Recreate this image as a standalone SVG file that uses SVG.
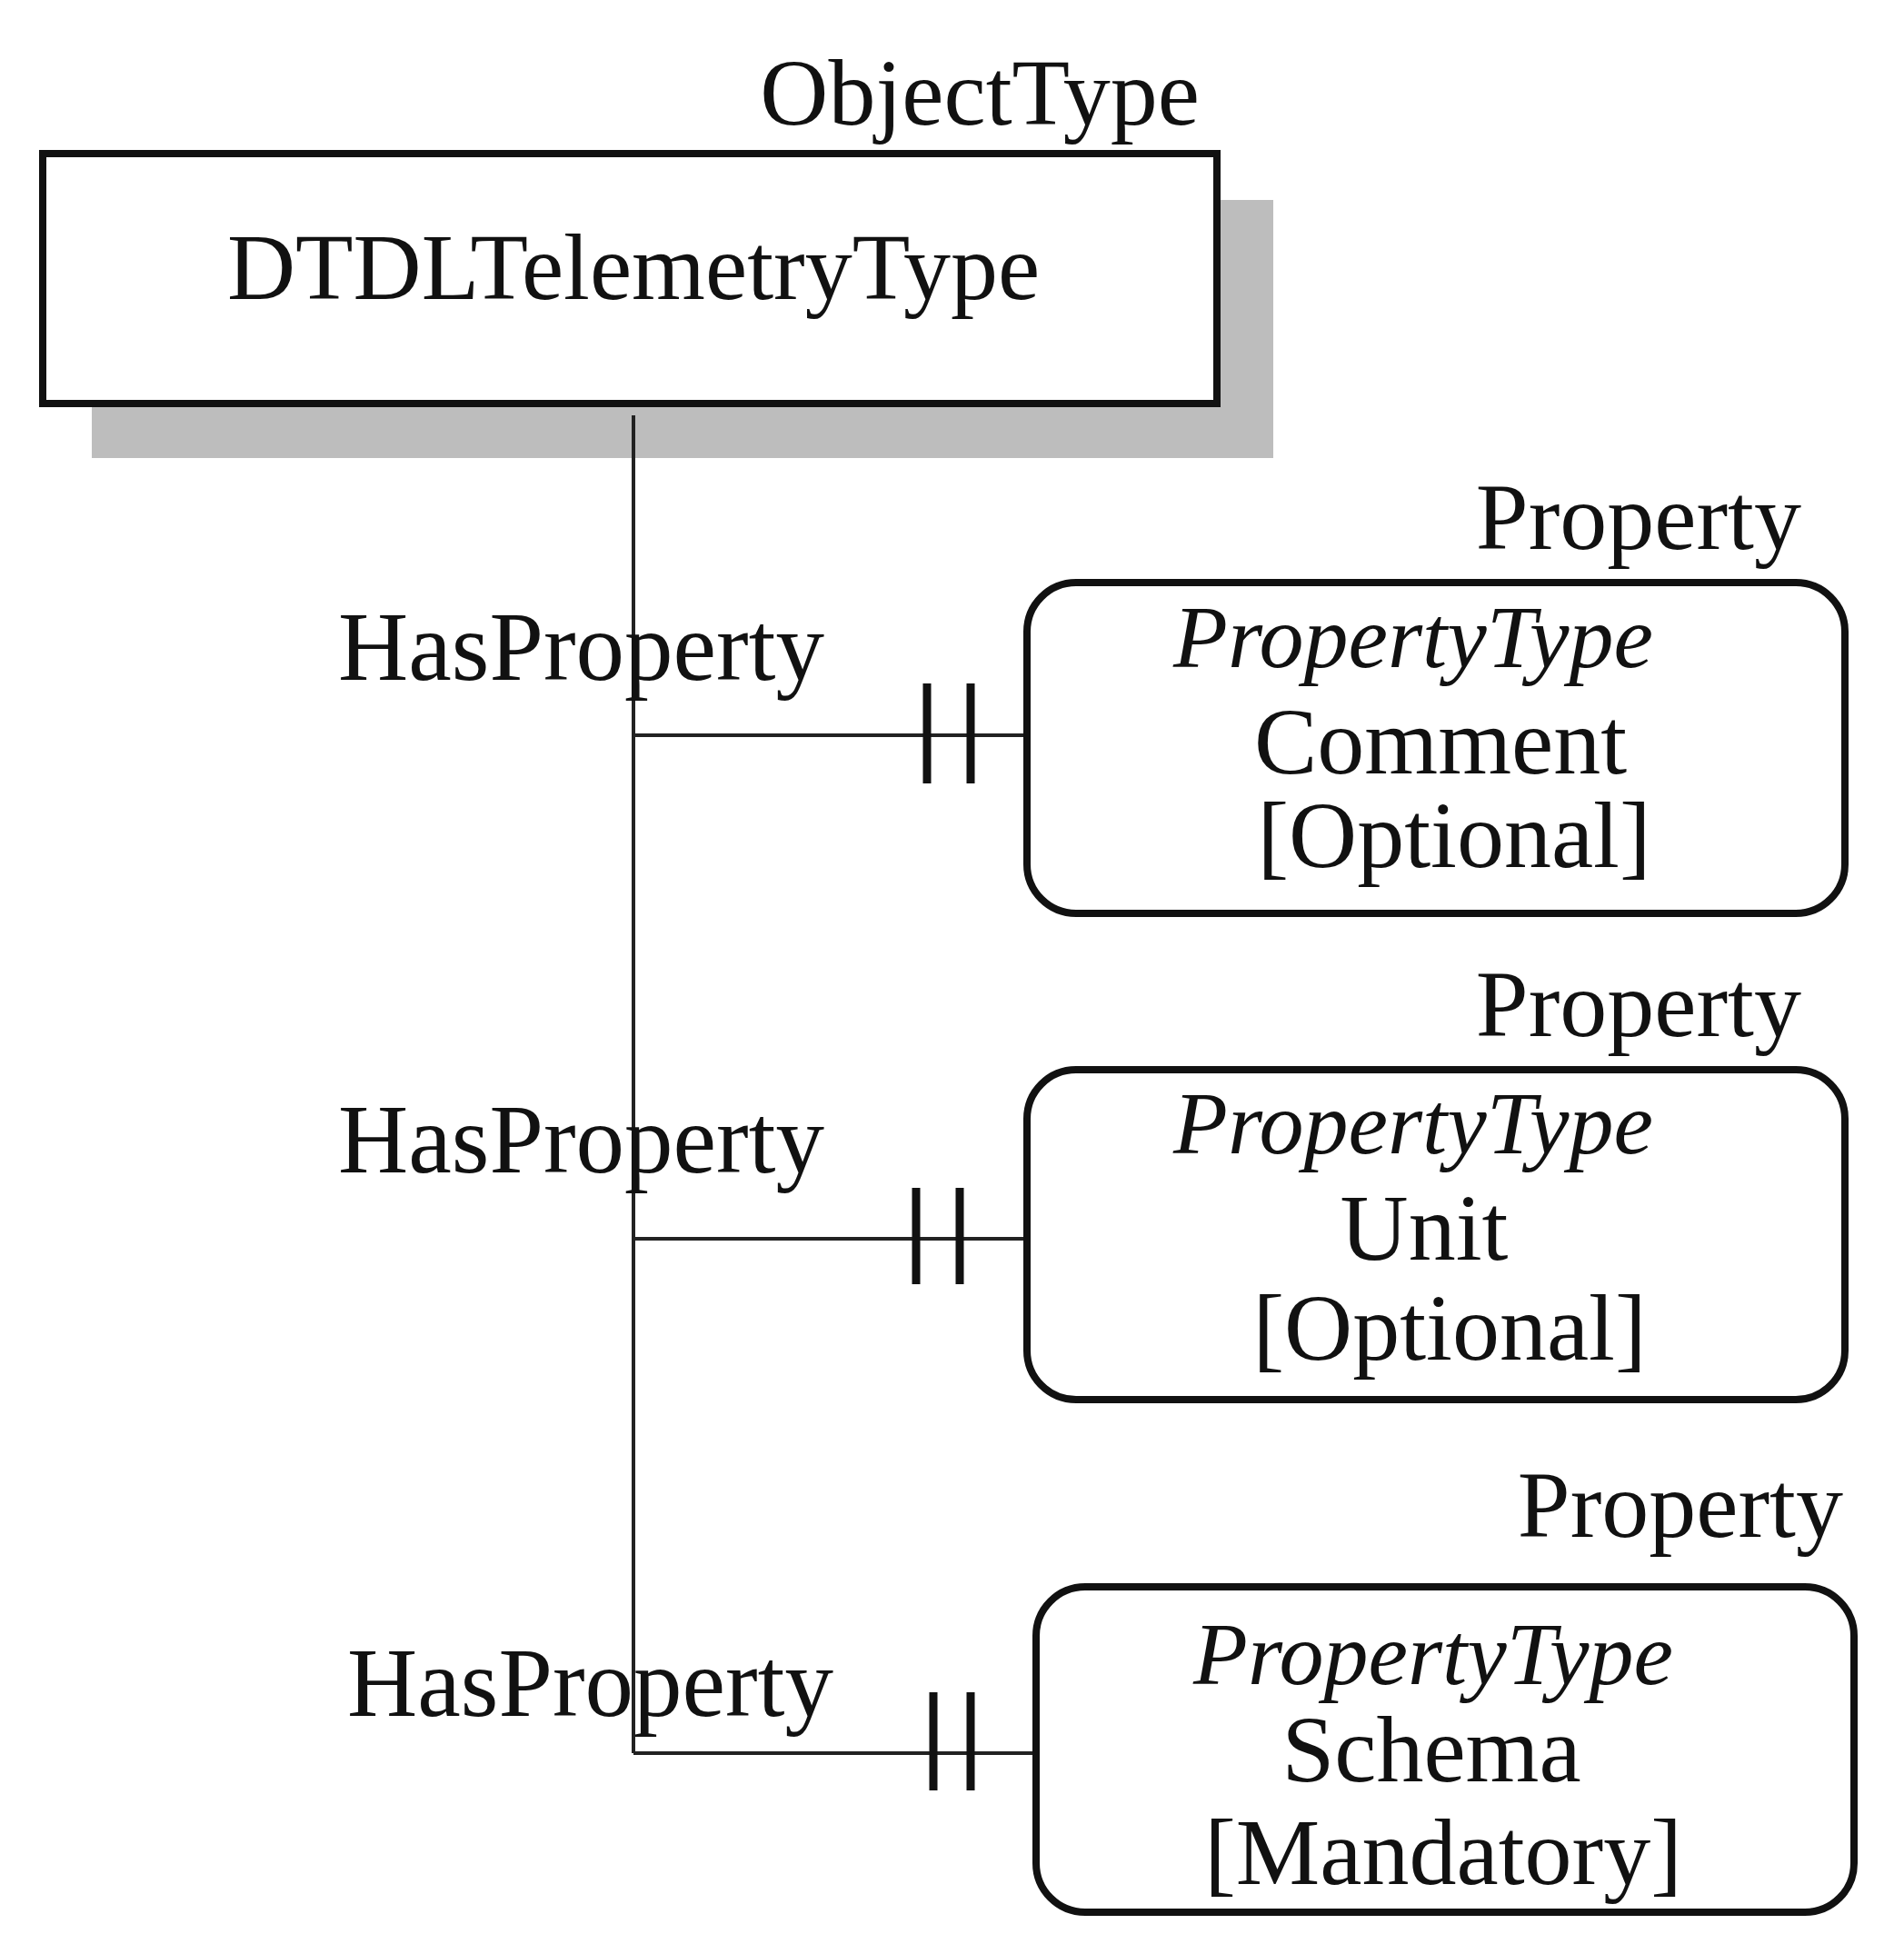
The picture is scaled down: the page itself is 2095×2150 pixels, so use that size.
<svg xmlns="http://www.w3.org/2000/svg" width="2095" height="2150" viewBox="0 0 2095 2150">
<style>
text{font-family:"Liberation Serif","DejaVu Serif",serif;font-size:104px;fill:#111}
.m{text-anchor:middle}.e{text-anchor:end}.i{font-style:italic;font-size:98px}
.h{font-size:107px}
.box{fill:#fff;stroke:#111;stroke-width:8}
.ln{stroke:#222;stroke-width:4;fill:none}
.bar{stroke:#111;stroke-width:9}
</style>
<rect width="2095" height="2150" fill="#fff"/>
<g id="n0">
<rect x="101" y="220" width="1300" height="284" fill="#bdbdbd"/>
<rect class="box" x="47" y="169" width="1292" height="275"/>
<text class="e" x="1320" y="137">ObjectType</text>
<text class="m" x="697" y="329">DTDLTelemetryType</text>
</g>
<g id="connectors">
<path class="ln" d="M697 457V1929M697 809H1130M697 1363H1130M697 1929H1140"/>
<path class="bar" d="M1020 752V862M1068 752V862M1008 1307V1413M1056 1307V1413M1027 1862V1970M1068 1862V1970"/>
<text class="h" x="372" y="748">HasProperty</text>
<text class="h" x="372" y="1290">HasProperty</text>
<text class="h" x="382" y="1888">HasProperty</text>
</g>
<g id="n1">
<rect class="box" x="1130" y="641" width="900" height="364" rx="54"/>
<text class="e" x="1982" y="604">Property</text>
<text class="m i" x="1555" y="734">PropertyType</text>
<text class="m" x="1585" y="851">Comment</text>
<text class="m" x="1600" y="954">[Optional]</text>
</g>
<g id="n2">
<rect class="box" x="1130" y="1177" width="900" height="363" rx="54"/>
<text class="e" x="1982" y="1140">Property</text>
<text class="m i" x="1555" y="1269">PropertyType</text>
<text class="m" x="1567" y="1386">Unit</text>
<text class="m" x="1595" y="1496">[Optional]</text>
</g>
<g id="n3">
<rect class="box" x="1140" y="1746" width="900" height="358" rx="54"/>
<text class="e" x="2028" y="1691">Property</text>
<text class="m i" x="1577" y="1853">PropertyType</text>
<text class="m" x="1575" y="1960">Schema</text>
<text class="m" x="1588" y="2073">[Mandatory]</text>
</g>
</svg>
